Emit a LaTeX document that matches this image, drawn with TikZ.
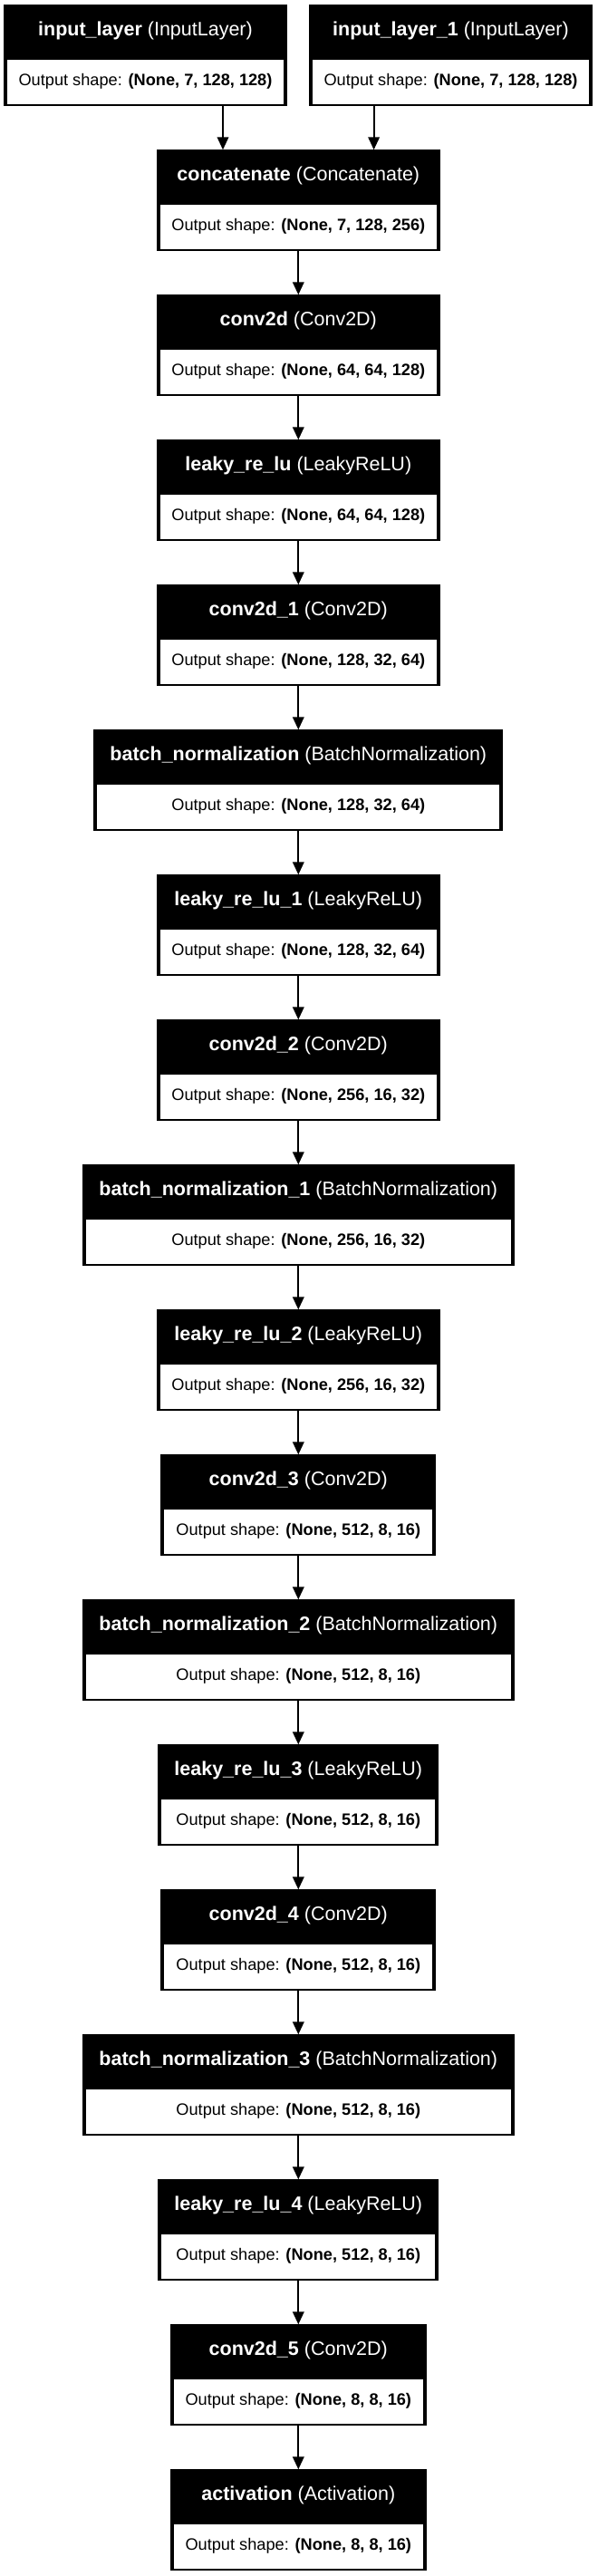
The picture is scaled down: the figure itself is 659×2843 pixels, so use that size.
\documentclass[tikz,border=0pt]{standalone}
\usepackage{fontspec}
\setmainfont{Liberation Sans}
\usetikzlibrary{arrows.meta}
\tikzset{
  layerbox/.style={rectangle, fill=black, draw=none, minimum height=112pt, anchor=north, inner sep=0pt, outer sep=0pt},
  headtext/.style={anchor=base, text=white, inner sep=0pt, font=\fontsize{21.5}{24}\selectfont},
  outtext/.style={anchor=base, text=black, inner sep=0pt, font=\fontsize{18.2}{21}\selectfont},
  arr/.style={line width=2pt, -{Triangle[length=14pt,width=12.5pt]}}
}
% #1 id, #2 x centre, #3 top y, #4 width, #5 name, #6 type, #7 shape
\newcommand\mylayer[7]{%
  \node[layerbox, minimum width=#4pt] (#1) at (#2pt,-#3pt) {};
  \fill[white] ([xshift=4pt,yshift=-60.5pt]#1.north west) rectangle ([xshift=-4pt,yshift=2.5pt]#1.south east);
  \node[headtext] (#1-h) at ([yshift=-34.5pt]#1.north) {\textbf{#5} #6};
  \node[outtext] (#1-o) at ([yshift=-89pt]#1.north) {Output shape: \textbf{#7}};
}
\begin{document}
\begin{tikzpicture}
\fill[white] (0,0) rectangle (659pt,-2843pt);
\useasboundingbox (0,0) rectangle (659pt,-2843pt);
\mylayer{in0}{160.5}{5.3}{313}{input\_layer}{(InputLayer)}{(None, 7, 128, 128)}
\mylayer{in1}{497.5}{5.3}{313}{input\_layer\_1}{(InputLayer)}{(None, 7, 128, 128)}
\mylayer{cat}{329.3}{165.3}{313}{concatenate}{(Concatenate)}{(None, 7, 128, 256)}
\mylayer{c0}{329.3}{325.3}{313}{conv2d}{(Conv2D)}{(None, 64, 64, 128)}
\mylayer{l0}{329.3}{485.3}{313}{leaky\_re\_lu}{(LeakyReLU)}{(None, 64, 64, 128)}
\mylayer{c1}{329.3}{645.3}{313}{conv2d\_1}{(Conv2D)}{(None, 128, 32, 64)}
\mylayer{b0}{329.3}{805.3}{452}{batch\_normalization}{(BatchNormalization)}{(None, 128, 32, 64)}
\mylayer{l1}{329.3}{965.3}{313}{leaky\_re\_lu\_1}{(LeakyReLU)}{(None, 128, 32, 64)}
\mylayer{c2}{329.3}{1125.3}{313}{conv2d\_2}{(Conv2D)}{(None, 256, 16, 32)}
\mylayer{b1}{329.3}{1285.3}{477}{batch\_normalization\_1}{(BatchNormalization)}{(None, 256, 16, 32)}
\mylayer{l2}{329.3}{1445.3}{313}{leaky\_re\_lu\_2}{(LeakyReLU)}{(None, 256, 16, 32)}
\mylayer{c3}{329.3}{1605.3}{304}{conv2d\_3}{(Conv2D)}{(None, 512, 8, 16)}
\mylayer{b2}{329.3}{1765.3}{477}{batch\_normalization\_2}{(BatchNormalization)}{(None, 512, 8, 16)}
\mylayer{l3}{329.3}{1925.3}{310}{leaky\_re\_lu\_3}{(LeakyReLU)}{(None, 512, 8, 16)}
\mylayer{c4}{329.3}{2085.3}{304}{conv2d\_4}{(Conv2D)}{(None, 512, 8, 16)}
\mylayer{b3}{329.3}{2245.3}{477}{batch\_normalization\_3}{(BatchNormalization)}{(None, 512, 8, 16)}
\mylayer{l4}{329.3}{2405.3}{310}{leaky\_re\_lu\_4}{(LeakyReLU)}{(None, 512, 8, 16)}
\mylayer{c5}{329.3}{2565.3}{283}{conv2d\_5}{(Conv2D)}{(None, 8, 8, 16)}
\mylayer{act}{329.3}{2725.3}{283}{activation}{(Activation)}{(None, 8, 8, 16)}
% connectors
\draw[arr] ([xshift=-83.3pt]cat.north |- in0.south) -- ([xshift=-83.3pt]cat.north);
\draw[arr] ([xshift=83.3pt]cat.north |- in1.south) -- ([xshift=83.3pt]cat.north);
\foreach \a/\b in {cat/c0, c0/l0, l0/c1, c1/b0, b0/l1, l1/c2, c2/b1, b1/l2, l2/c3, c3/b2, b2/l3, l3/c4, c4/b3, b3/l4, l4/c5, c5/act}
  \draw[arr] (\a.south) -- (\b.north);
\end{tikzpicture}
\end{document}
